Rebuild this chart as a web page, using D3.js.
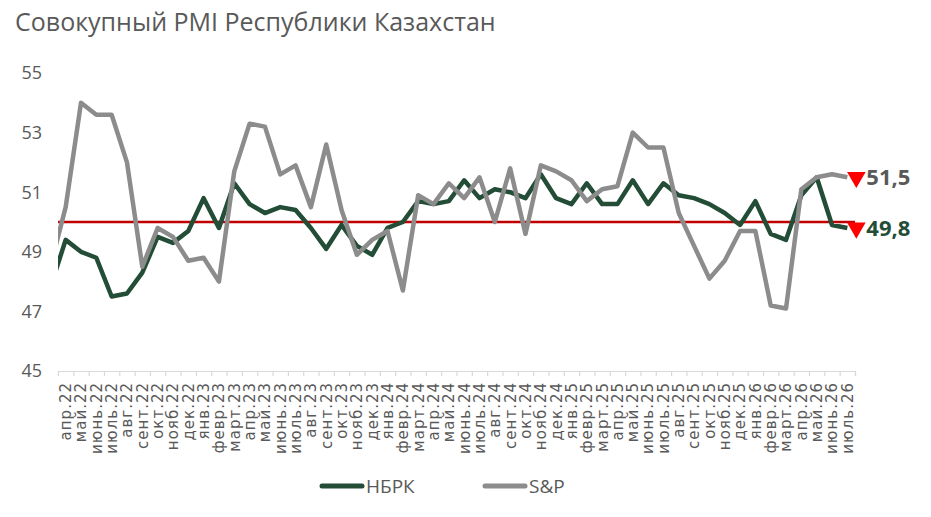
<!DOCTYPE html>
<html>
<head>
<meta charset="utf-8">
<script src="https://cdn.jsdelivr.net/npm/d3@7"></script>
<style>
  body { margin: 0; background: #fff; }
  svg { display: block; font-family: "Open Sans", "Noto Sans", sans-serif; }
</style>
</head>
<body>
<svg id="chart" width="931" height="517"></svg>
<script>
// ===== Dades =====
// the first month (март.22) sits left of the axis and is only seen as the clipped start of the lines
const months = [
  "март.22",
  "апр.22", "май.22", "июнь.22", "июль.22", "авг.22", "сент.22", "окт.22", "нояб.22", "дек.22",
  "янв.23", "февр.23", "март.23", "апр.23", "май.23", "июнь.23", "июль.23", "авг.23", "сент.23", "окт.23", "нояб.23", "дек.23",
  "янв.24", "февр.24", "март.24", "апр.24", "май.24", "июнь.24", "июль.24", "авг.24", "сент.24", "окт.24", "нояб.24", "дек.24",
  "янв.25", "февр.25", "март.25", "апр.25", "май.25", "июнь.25", "июль.25", "авг.25", "сент.25", "окт.25", "нояб.25", "дек.25",
  "янв.26", "февр.26", "март.26", "апр.26", "май.26", "июнь.26", "июль.26"
];

const nbrk = [
  47.8,
  49.4, 49.0, 48.8, 47.5, 47.6, 48.3, 49.5, 49.3, 49.7,
  50.8, 49.8, 51.3, 50.6, 50.3, 50.5, 50.4, 49.8, 49.1, 49.9, 49.2, 48.9,
  49.8, 50.0, 50.7, 50.6, 50.7, 51.4, 50.8, 51.1, 51.0, 50.8, 51.6, 50.8,
  50.6, 51.3, 50.6, 50.6, 51.4, 50.6, 51.3, 50.9, 50.8, 50.6, 50.3, 49.9,
  50.7, 49.6, 49.4, 50.9, 51.5, 49.9, 49.8
];

const sp = [
  48.5,
  50.5, 54.0, 53.6, 53.6, 52.0, 48.5, 49.8, 49.5, 48.7,
  48.8, 48.0, 51.7, 53.3, 53.2, 51.6, 51.9, 50.5, 52.6, 50.4, 48.9, 49.4,
  49.7, 47.7, 50.9, 50.6, 51.3, 50.8, 51.5, 50.0, 51.8, 49.6, 51.9, 51.7,
  51.4, 50.7, 51.1, 51.2, 53.0, 52.5, 52.5, 50.3, 49.2, 48.1, 48.7, 49.7,
  49.7, 47.2, 47.1, 51.1, 51.5, 51.6, 51.5
];

const yTicks = [45, 47, 49, 51, 53, 55];
const threshold = 50;

const title = "Совокупный PMI Республики Казахстан";
const seriesNames = ["НБРК", "S&P"];

// ===== Colors =====
const GREEN = "#234d36";
const GREY = "#8c8c8c";
const TEXT = "#595959";

// ===== Chart =====
const svg = d3.select("#chart");
const plot = { left: 58, right: 855, top: 60, bottom: 371 };

const x = d3.scaleLinear()
  .domain([0.5, months.length - 0.5])
  .range([plot.left, plot.right]);

const y = d3.scaleLinear()
  .domain([45, 55])
  .range([plot.bottom, 73]);

svg.append("defs").append("clipPath")
  .attr("id", "plot-clip")
  .append("rect")
  .attr("x", plot.left)
  .attr("y", plot.top)
  .attr("width", plot.right - plot.left + 20)
  .attr("height", plot.bottom - plot.top);

// title
svg.append("text")
  .attr("x", 15)
  .attr("y", 31)
  .text(title)
  .style("font-size", "25px")
  .style("fill", TEXT);

// y axis labels
svg.append("g")
  .selectAll("text")
  .data(yTicks)
  .enter()
  .append("text")
  .attr("x", 42)
  .attr("y", d => y(d))
  .attr("dy", "0.35em")
  .attr("text-anchor", "end")
  .text(d => d)
  .style("font-size", "18px")
  .style("fill", TEXT);

// x axis
const xAxis = d3.axisBottom(x)
  .tickValues(d3.range(0.5, months.length, 1))
  .tickSize(5)
  .tickFormat("");

const gx = svg.append("g")
  .attr("transform", `translate(0,${plot.bottom})`)
  .call(xAxis);
gx.select(".domain").attr("stroke", "#d9d9d9").attr("stroke-width", 1.2);
gx.selectAll(".tick line").attr("stroke", "#d9d9d9").attr("stroke-width", 1.2);

svg.append("g")
  .selectAll("text")
  .data(months.slice(1))
  .enter()
  .append("text")
  .attr("transform", (d, i) => `translate(${x(i + 1)},${plot.bottom + 11}) rotate(-90)`)
  .attr("dy", "0.36em")
  .attr("text-anchor", "end")
  .text(d => d)
  .style("font-family", "'DejaVu Sans', sans-serif")
  .style("font-size", "15px")
  .style("letter-spacing", "1px")
  .style("fill", TEXT);

// lines
const line = d3.line()
  .x((d, i) => x(i))
  .y(d => y(d));

const lines = svg.append("g").attr("clip-path", "url(#plot-clip)");

lines.append("line")
  .attr("x1", plot.left)
  .attr("x2", plot.right)
  .attr("y1", y(threshold))
  .attr("y2", y(threshold))
  .attr("stroke", "#c00000")
  .attr("stroke-width", 2.5);

lines.append("path")
  .datum(nbrk)
  .attr("d", line)
  .attr("fill", "none")
  .attr("stroke", GREEN)
  .attr("stroke-width", 4.5)
  .attr("stroke-linejoin", "round");

lines.append("path")
  .datum(sp)
  .attr("d", line)
  .attr("fill", "none")
  .attr("stroke", GREY)
  .attr("stroke-width", 4.5)
  .attr("stroke-linejoin", "round");

// last values
const fmt = v => d3.format(".1f")(v).replace(".", ",");
const last = months.length - 1;
const ends = [
  { v: sp[last], color: TEXT },
  { v: nbrk[last], color: GREEN }
];

const marker = d3.symbol().type(d3.symbolTriangle).size(150);

ends.forEach(e => {
  svg.append("path")
    .attr("d", marker)
    .attr("transform", `translate(${x(last) + 9},${y(e.v)}) rotate(180)`)
    .attr("fill", "#ff0000");

  svg.append("text")
    .attr("x", x(last) + 19)
    .attr("y", y(e.v))
    .attr("dy", "0.36em")
    .text(fmt(e.v))
    .style("font-size", "22px")
    .style("font-weight", "bold")
    .style("fill", e.color);
});

// legend
const legend = svg.append("g");
[{ name: seriesNames[0], color: GREEN, x0: 320 }, { name: seriesNames[1], color: GREY, x0: 483 }]
  .forEach(l => {
    legend.append("line")
      .attr("x1", l.x0 + 2)
      .attr("x2", l.x0 + 42)
      .attr("y1", 486)
      .attr("y2", 486)
      .attr("stroke", l.color)
      .attr("stroke-width", 5)
      .attr("stroke-linecap", "round");
    legend.append("text")
      .attr("x", l.x0 + 46)
      .attr("y", 486)
      .attr("dy", "0.36em")
      .text(l.name)
      .style("font-size", "19px")
      .style("fill", TEXT);
  });
</script>
</body>
</html>
